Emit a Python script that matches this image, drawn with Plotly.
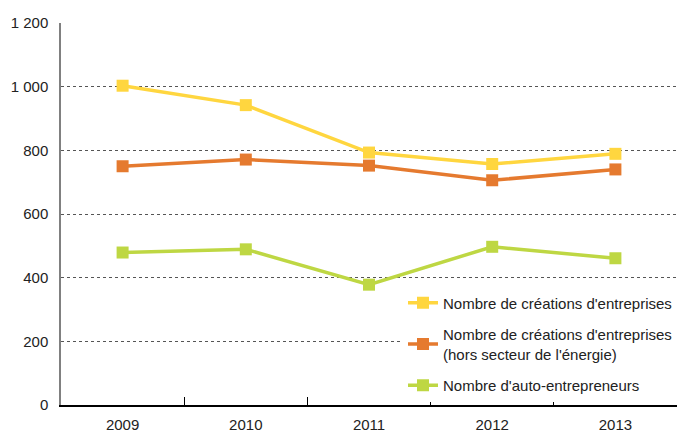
import plotly.graph_objects as go

# Données
annees = ["2009", "2010", "2011", "2012", "2013"]
creations = [1003, 942, 793, 757, 789]
creations_hors_energie = [750, 771, 752, 706, 740]
auto_entrepreneurs = [479, 489, 378, 497, 461]

noms = [
    "Nombre de créations d'entreprises",
    "Nombre de créations d'entreprises<br>(hors secteur de l'énergie)",
    "Nombre d'auto-entrepreneurs",
]
couleurs = ["#FFD63F", "#E57A2F", "#BED743"]

y_ticks = [0, 200, 400, 600, 800, 1000, 1200]
y_labels = ["0", "200", "400", "600", "800", "1 000", "1 200"]

fig = go.Figure()

for i, (nom, valeurs, couleur) in enumerate(zip(noms, [creations, creations_hors_energie, auto_entrepreneurs], couleurs)):
    fig.add_trace(go.Scatter(
        x=annees, y=valeurs,
        mode="lines+markers",
        name=nom,
        legendgroup=f"g{i}",
        line=dict(color=couleur, width=3.5),
        marker=dict(symbol="square", size=12, color=couleur),
    ))

# la page html ajoute une marge de 8 px autour du graphique
fig.update_layout(
    width=694, height=436,
    margin=dict(l=53, r=25, t=15, b=39),
    paper_bgcolor="white",
    plot_bgcolor="white",
    font=dict(family="Liberation Sans, Arial, sans-serif", size=15, color="#222222"),
    legend=dict(
        x=1.0, y=0.31, xanchor="right", yanchor="top",
        bgcolor="white",
        font=dict(size=15),
        tracegroupgap=9,
    ),
    xaxis=dict(
        type="category",
        range=[-0.5, len(annees) - 0.5],
        automargin=False,
        showline=True, linecolor="black", linewidth=1.5,
        ticks="inside", tickson="boundaries", ticklen=8, tickcolor="black",
        showgrid=False,
        ticklabelstandoff=5,
    ),
    yaxis=dict(
        range=[0, 1200],
        automargin=False,
        tickvals=y_ticks, ticktext=y_labels,
        showline=True, linecolor="#808080", linewidth=1.5,
        showgrid=True, gridcolor="#555555", griddash="dot", gridwidth=1,
        zeroline=False,
        ticklabelstandoff=8,
    ),
)

fig.write_html("out.html")
